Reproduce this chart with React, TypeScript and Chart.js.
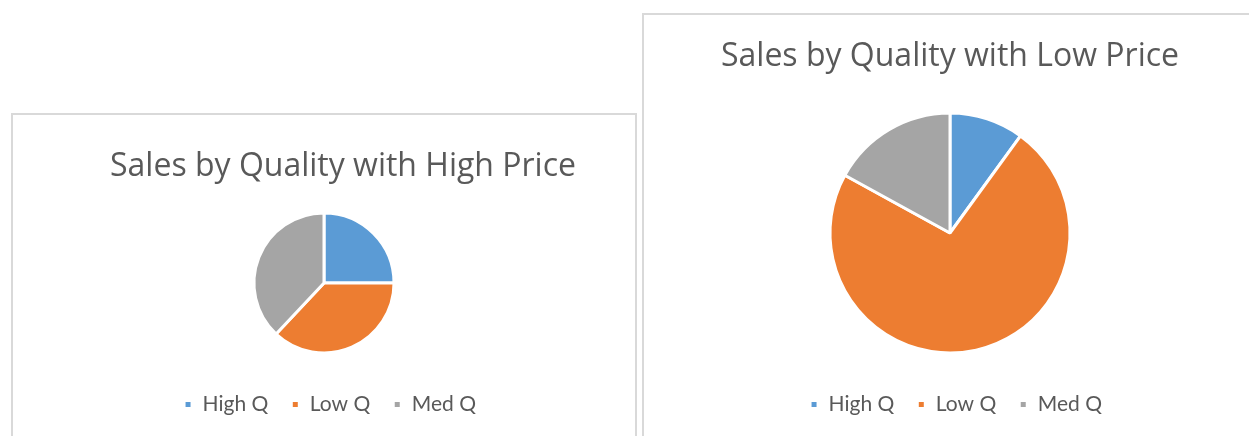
import React, { useEffect, useRef } from "react";
import { Chart, registerables } from "chart.js";

Chart.register(...registerables);

const categories = ["High Q", "Low Q", "Med Q"];
const highPriceValues = [25, 37, 38];
const lowPriceValues = [10, 73, 17];
const sliceColors = ["#5B9BD5", "#ED7D31", "#A5A5A5"];
const titleHigh = "Sales by Quality with High Price";
const titleLow = "Sales by Quality with Low Price";

const TEXT = "#595959";
const FONT = "Lato, 'Open Sans', sans-serif";
const TITLE_FONT = "'Open Sans', Lato, sans-serif";

const shiftPlugin = {
  id: "shiftBlocks",
  afterLayout(chart: any, _args: any, opts: any) {
    const t = chart.titleBlock;
    if (t && opts && opts.titleDx) {
      t.left += opts.titleDx;
      t.right += opts.titleDx;
    }
    const l = chart.legend;
    if (l && opts && opts.legendDx) {
      l.left += opts.legendDx;
      l.right += opts.legendDx;
    }
  },
};

type PieProps = {
  values: number[];
  title: string;
  width: number;
  height: number;
  radius: number;
  titlePad: { top: number; bottom: number };
  padBottom: number;
  titleDx: number;
  legendDx: number;
};

function PieChart(p: PieProps) {
  const ref = useRef<HTMLCanvasElement | null>(null);
  useEffect(() => {
    if (!ref.current) return;
    const chart = new Chart(ref.current, {
      type: "pie",
      data: {
        labels: categories,
        datasets: [
          {
            data: p.values,
            backgroundColor: sliceColors,
            borderColor: "#FFFFFF",
            borderWidth: 3,
            radius: p.radius,
          } as any,
        ],
      },
      options: {
        responsive: false,
        animation: false,
        layout: { padding: { top: 0, bottom: p.padBottom, left: 0, right: 0 } },
        plugins: {
          tooltip: { enabled: false },
          title: {
            display: true,
            text: p.title,
            color: TEXT,
            font: { family: TITLE_FONT, size: 32, weight: "normal", lineHeight: 1.2 },
            padding: p.titlePad,
          },
          legend: {
            display: true,
            position: "bottom",
            labels: {
              color: TEXT,
              font: { family: FONT, size: 21 },
              boxWidth: 8,
              boxHeight: 8,
              padding: 23,
            },
          },
          shiftBlocks: { titleDx: p.titleDx, legendDx: p.legendDx },
        } as any,
      },
      plugins: [shiftPlugin as any],
    });
    return () => chart.destroy();
  }, []);
  return (
    <canvas
      ref={ref}
      width={p.width}
      height={p.height}
      style={{ display: "block", width: p.width, height: p.height }}
    />
  );
}

export default function App() {
  return (
    <div
      style={{
        position: "absolute",
        left: 0,
        top: 0,
        width: 1249,
        height: 436,
        overflow: "hidden",
        background: "#FFFFFF",
      }}
    >
      <div
        style={{
          position: "absolute",
          left: 11,
          top: 113,
          width: 626,
          height: 340,
          boxSizing: "border-box",
          border: "2px solid #D9D9D9",
          background: "#FFFFFF",
        }}
      >
        <PieChart
          values={highPriceValues}
          title={titleHigh}
          width={622}
          height={321}
          radius={70}
          titlePad={{ top: 32.8, bottom: 8.8 }}
          padBottom={11}
          titleDx={19}
          legendDx={6}
        />
      </div>
      <div
        style={{
          position: "absolute",
          left: 642,
          top: 13,
          width: 616,
          height: 440,
          boxSizing: "border-box",
          border: "2px solid #D9D9D9",
          background: "#FFFFFF",
        }}
      >
        <PieChart
          values={lowPriceValues}
          title={titleLow}
          width={612}
          height={421}
          radius={120}
          titlePad={{ top: 22.3, bottom: 19.3 }}
          padBottom={11}
          titleDx={0}
          legendDx={6}
        />
      </div>
    </div>
  );
}
